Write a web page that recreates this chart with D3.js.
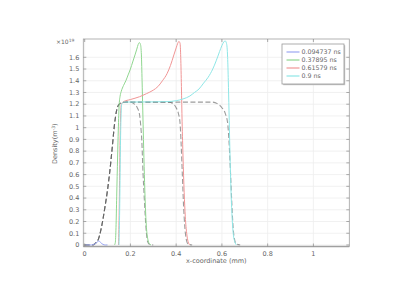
<!DOCTYPE html>
<html>
<head>
<meta charset="utf-8">
<script src="https://cdn.jsdelivr.net/npm/d3@7"></script>
<style>
  body { margin: 0; background: #fff; }
  text { font-family: "DejaVu Sans", sans-serif; }
</style>
</head>
<body>
<div id="chart"></div>
<script>
// series (x in mm, density in 1e19 m^-3)
var seriesNames = ["0.094737 ns", "0.37895 ns", "0.61579 ns", "0.9 ns"];
var seriesColors = ["#9aa6f2", "#8fd68f", "#f09595", "#8ee6e6"];

var blueLine = [[0,0],[0.03,0],[0.045,0.01],[0.055,0.025],[0.062,0.035],[0.07,0.02],[0.08,0.005],[0.09,0],[0.1,0]];
var greenLine = [[0.13,0],[0.134,0.02],[0.137,0.15],[0.14,0.41],[0.144,0.75],[0.147,0.98],[0.151,1.2],[0.155,1.27],[0.16,1.31],[0.17,1.36],[0.18,1.4],[0.19,1.45],[0.2,1.5],[0.21,1.56],[0.22,1.62],[0.228,1.67],[0.234,1.71],[0.239,1.725],[0.244,1.71],[0.248,1.62],[0.251,1.4],[0.254,1.15],[0.257,0.9],[0.261,0.6],[0.265,0.35],[0.27,0.15],[0.276,0.05],[0.283,0.01],[0.29,0]];
var redLine = [[0.148,0],[0.151,0.3],[0.154,0.8],[0.157,1.1],[0.16,1.2],[0.17,1.222],[0.2,1.24],[0.24,1.264],[0.27,1.29],[0.3,1.32],[0.32,1.35],[0.34,1.4],[0.36,1.46],[0.375,1.53],[0.39,1.62],[0.4,1.68],[0.407,1.72],[0.412,1.735],[0.417,1.72],[0.42,1.6],[0.423,1.35],[0.426,1.05],[0.43,0.75],[0.435,0.45],[0.44,0.24],[0.446,0.1],[0.452,0.03],[0.46,0]];
var cyanLine = [[0.15,0],[0.153,0.3],[0.156,0.8],[0.159,1.1],[0.162,1.2],[0.17,1.218],[0.3,1.22],[0.36,1.222],[0.4,1.23],[0.43,1.245],[0.46,1.27],[0.48,1.3],[0.5,1.33],[0.52,1.38],[0.54,1.43],[0.56,1.5],[0.575,1.57],[0.59,1.65],[0.6,1.7],[0.608,1.73],[0.614,1.74],[0.62,1.72],[0.625,1.6],[0.628,1.4],[0.631,1.15],[0.635,0.8],[0.64,0.45],[0.645,0.22],[0.65,0.09],[0.656,0.03],[0.664,0]];

// dashed reference profiles: common rising edge + three falling edges
var dashRise = [[0,0],[0.03,0],[0.04,0.005],[0.05,0.02],[0.06,0.05],[0.07,0.12],[0.08,0.22],[0.09,0.34],[0.1,0.47],[0.11,0.63],[0.12,0.82],[0.13,1.02],[0.14,1.15],[0.15,1.198],[0.16,1.212],[0.18,1.218]];
var dashFallA = [[0.2,1.218],[0.215,1.205],[0.23,1.17],[0.24,1.11],[0.245,1.02],[0.25,0.88],[0.255,0.62],[0.26,0.42],[0.265,0.24],[0.27,0.1],[0.275,0.03],[0.285,0.003],[0.3,0]];
var dashFallB = [[0.37,1.218],[0.385,1.205],[0.4,1.17],[0.41,1.12],[0.417,1.04],[0.422,0.85],[0.427,0.6],[0.432,0.35],[0.438,0.15],[0.444,0.05],[0.452,0.008],[0.47,0]];
var dashFallC = [[0.56,1.218],[0.58,1.205],[0.6,1.17],[0.615,1.12],[0.625,1.04],[0.632,0.85],[0.638,0.6],[0.643,0.37],[0.649,0.15],[0.655,0.05],[0.663,0.008],[0.68,0]];

var xTicks = [0, 0.2, 0.4, 0.6, 0.8, 1];
var yTicks = [0,0.1,0.2,0.3,0.4,0.5,0.6,0.7,0.8,0.9,1,1.1,1.2,1.3,1.4,1.5,1.6];

(function () {
  var W = 420, H = 290;
  var pL = 83.3, pR = 349.3, pT = 39, pB = 246.5;

  var svg = d3.select("#chart").append("svg")
      .attr("width", W)
      .attr("height", H);

  var x = d3.scaleLinear().domain([-0.006, 1.157]).range([pL, pR]);
  var y = d3.scaleLinear().domain([-0.013, 1.756]).range([pB, pT]);

  // grid
  svg.append("g").selectAll("line")
      .data(xTicks)
      .enter().append("line")
      .attr("x1", function(d) { return x(d); }).attr("x2", function(d) { return x(d); })
      .attr("y1", pT).attr("y2", pB)
      .style("stroke", "#ededed").style("stroke-width", 0.8);
  svg.append("g").selectAll("line")
      .data(yTicks)
      .enter().append("line")
      .attr("x1", pL).attr("x2", pR)
      .attr("y1", function(d) { return y(d); }).attr("y2", function(d) { return y(d); })
      .style("stroke", "#ededed").style("stroke-width", 0.8);

  var line = d3.line()
      .x(function(d) { return x(d[0]); })
      .y(function(d) { return y(d[1]); })
      .curve(d3.curveMonotoneX);

  svg.append("clipPath").attr("id", "clip")
      .append("rect").attr("x", pL).attr("y", pT).attr("width", pR - pL).attr("height", pB - pT);

  var plot = svg.append("g").attr("clip-path", "url(#clip)");

  // dashed profiles
  [dashFallA, dashFallB, dashFallC].forEach(function(fall) {
    plot.append("path")
        .attr("d", line(dashRise.concat(fall)))
        .style("fill", "none")
        .style("stroke", "#5a5a5a")
        .style("stroke-opacity", 0.6)
        .style("stroke-width", 1.1)
        .style("stroke-dasharray", "5,2.5");
  });

  var seriesData = [blueLine, greenLine, redLine, cyanLine];
  plot.selectAll(".series")
      .data(seriesData)
      .enter().append("path")
      .attr("class", "series")
      .attr("d", line)
      .style("fill", "none")
      .style("stroke", function(d, i) { return seriesColors[i]; })
      .style("stroke-width", 1);

  // frame
  svg.append("rect")
      .attr("x", pL).attr("y", pT)
      .attr("width", pR - pL).attr("height", pB - pT)
      .style("fill", "none").style("stroke", "#a0a0a0").style("stroke-width", 0.8);
  svg.append("line")
      .attr("x1", pL).attr("x2", pR).attr("y1", pB).attr("y2", pB)
      .style("stroke", "#a0a0a0").style("stroke-width", 1.6);

  // ticks
  var tk = svg.append("g").style("stroke", "#888").style("stroke-width", 0.7);
  yTicks.forEach(function(d) {
    tk.append("line").attr("x1", pL).attr("x2", pL + 3).attr("y1", y(d)).attr("y2", y(d));
    tk.append("line").attr("x1", pR).attr("x2", pR - 3).attr("y1", y(d)).attr("y2", y(d));
  });
  xTicks.forEach(function(d) {
    tk.append("line").attr("x1", x(d)).attr("x2", x(d)).attr("y1", pB).attr("y2", pB - 3);
    tk.append("line").attr("x1", x(d)).attr("x2", x(d)).attr("y1", pT).attr("y2", pT + 3);
  });

  var fmt = d3.format("~g");
  svg.append("g").selectAll("text")
      .data(yTicks)
      .enter().append("text")
      .attr("x", pL - 4)
      .attr("y", function(d) { return y(d); })
      .attr("dy", "0.35em")
      .attr("text-anchor", "end")
      .style("font-size", "6.5px")
      .style("fill", "#666")
      .text(function(d) { return fmt(d); });

  svg.append("g").selectAll("text")
      .data(xTicks)
      .enter().append("text")
      .attr("x", function(d) { return x(d); })
      .attr("y", pB + 9)
      .attr("text-anchor", "middle")
      .style("font-size", "6.5px")
      .style("fill", "#666")
      .text(function(d) { return fmt(d); });

  // exponent label
  var ex = svg.append("text")
      .attr("x", 56).attr("y", 44)
      .style("font-size", "6px")
      .style("fill", "#666");
  ex.append("tspan").text("×10");
  ex.append("tspan").attr("dy", -2.5).style("font-size", "4.5px").text("19");

  // axis titles
  svg.append("text")
      .attr("x", (pL + pR) / 2)
      .attr("y", pB + 16)
      .attr("text-anchor", "middle")
      .style("font-size", "6.5px")
      .style("fill", "#666")
      .text("x-coordinate (mm)");

  var yt = svg.append("text")
      .attr("transform", "translate(57," + ((pT + pB) / 2 + 1) + ") rotate(-90)")
      .attr("text-anchor", "middle")
      .style("font-size", "6.5px")
      .style("fill", "#666");
  yt.append("tspan").text("Density(m");
  yt.append("tspan").attr("dy", -2.5).style("font-size", "4.5px").text("-3");
  yt.append("tspan").attr("dy", 2.5).text(")");

  // legend
  var lg = svg.append("g").attr("transform", "translate(282,44)");
  lg.append("rect")
      .attr("x", 1.2).attr("y", 1.2).attr("width", 62).attr("height", 40)
      .style("fill", "#c4c4c4");
  lg.append("rect")
      .attr("width", 62).attr("height", 40)
      .style("fill", "#fff").style("stroke", "#999").style("stroke-width", 0.8);
  seriesNames.forEach(function(name, i) {
    lg.append("line")
        .attr("x1", 4.5).attr("x2", 17.5)
        .attr("y1", 8 + i * 8).attr("y2", 8 + i * 8)
        .style("stroke", seriesColors[i]).style("stroke-width", 1.2);
    lg.append("text")
        .attr("x", 19.5).attr("y", 8 + i * 8)
        .attr("dy", "0.35em")
        .style("font-size", "6.3px")
        .style("fill", "#666")
        .text(name);
  });
})();
</script>
</body>
</html>
